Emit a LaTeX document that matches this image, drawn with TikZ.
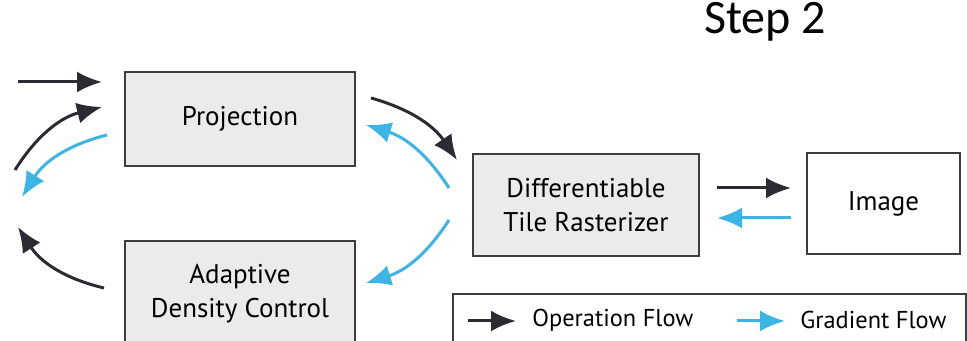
\documentclass[tikz,border=0pt]{standalone}
\usepackage{fontspec}
\setmainfont{PT Sans}
\newfontfamily\stepfont{Carlito}
\usepackage{tikz}
\usetikzlibrary{arrows, positioning, arrows.meta}
\definecolor{opcol}{RGB}{43,43,51}
\definecolor{gradcol}{RGB}{59,180,230}
\definecolor{boxfill}{RGB}{235,235,235}
\definecolor{boxline}{RGB}{60,60,66}

\begin{document}
\begin{tikzpicture}[x=0.5pt, y=0.5pt, font=\fontsize{13.5}{17}\selectfont,
    >={Latex[length=12.5pt,width=10.5pt]},
    block/.style={rectangle, draw=boxline, line width=1pt, fill=boxfill, align=center},
    op/.style={->, draw=opcol, line width=1.5pt},
    grad/.style={->, draw=gradcol, line width=1.5pt}]
    \useasboundingbox (0,0) rectangle (967,341);

    \node [block, minimum width=115pt, minimum height=47pt] (proj) at (240,222) {Projection};
    \node [block, minimum width=115pt, minimum height=52.5pt] (adc) at (240,47.5) {Adaptive\\Density Control};
    \node [block, minimum width=113pt, minimum height=51pt] (rast) at (586,136) {Differentiable\\Tile Rasterizer};
    \node [block, fill=white, minimum width=76.5pt, minimum height=50.5pt] (img) at (883.5,137.5) {Image};
    \node [font=\stepfont\fontsize{24}{28}\selectfont] (step) at (765,319) {Step 2};

    % free ends on the left
    \coordinate (in1) at (18,259);
    \coordinate (fb1) at (15,171);
    \coordinate (fb2) at (22,144);
    \coordinate (fb3) at (18,114);

    \draw[op] (in1) -- ([shift={(-22,37)}]proj.west);
    \draw[op] (fb1) to[bend left=22] ([shift={(-22,12)}]proj.west);
    \draw[grad] ([shift={(-17,-16)}]proj.west) to[bend right=22] (fb2);
    \draw[op] ([shift={(-20,5.5)}]adc.west) to[bend left=22] (fb3);

    \draw[op] ([shift={(15,21)}]proj.east) to[bend left=20] ([shift={(-15,45)}]rast.west);
    \draw[grad] ([shift={(-23,17)}]rast.west) to[bend right=20] ([shift={(10,-6)}]proj.east);
    \draw[grad] ([shift={(-23,-15)}]rast.west) to[bend left=20] ([shift={(10,10.5)}]adc.east);

    \draw[op] ([shift={(17,17)}]rast.east) -- ([shift={(-15,15.5)}]img.west);
    \draw[grad] ([shift={(-15,-14.5)}]img.west) -- ([shift={(17,-13)}]rast.east);

    % legend
    \node [rectangle, draw=boxline, line width=0.8pt, minimum width=256.5pt, minimum height=25.5pt] (legend) at (709.5,21.5) {};
    \node [anchor=west, inner sep=0pt, font=\fontsize{12.2}{15}\selectfont] (opflow) at (532,21) {Operation Flow};
    \node [anchor=west, inner sep=0pt, font=\fontsize{12.2}{15}\selectfont] (gradflow) at (800,21) {Gradient Flow};
    \draw[op] ([shift={(-64,-1)}]opflow.west) -- ([shift={(-16,-1)}]opflow.west);
    \draw[grad] ([shift={(-63,-1)}]gradflow.west) -- ([shift={(-15,-1)}]gradflow.west);
\end{tikzpicture}
\end{document}
